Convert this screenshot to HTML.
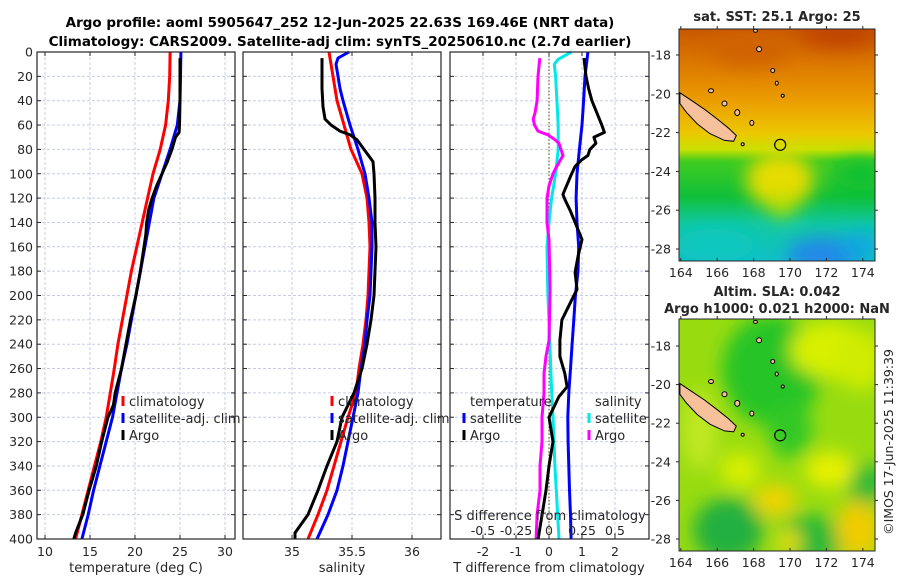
<!DOCTYPE html>
<html><head><meta charset="utf-8">
<style>
html,body{margin:0;padding:0;background:#fff;}
svg{display:block;font-family:"DejaVu Sans","Liberation Sans",sans-serif;}
</style></head>
<body>
<svg id="fig" width="900" height="580" viewBox="0 0 900 580" xmlns="http://www.w3.org/2000/svg">
<defs>
<filter id="blur" x="-50%" y="-50%" width="200%" height="200%"><feGaussianBlur stdDeviation="9"/></filter>
<linearGradient id="sstgrad" x1="0" y1="0" x2="0" y2="1">
<stop offset="0" stop-color="#c85800"/><stop offset="0.15" stop-color="#dc7800"/>
<stop offset="0.32" stop-color="#eca000"/><stop offset="0.45" stop-color="#ecc800"/>
<stop offset="0.52" stop-color="#c8e000"/><stop offset="0.57" stop-color="#40cc20"/>
<stop offset="0.72" stop-color="#10c038"/><stop offset="0.84" stop-color="#10c8a0"/>
<stop offset="1" stop-color="#10c0c8"/></linearGradient>
<clipPath id="clip1"><rect x="679" y="29" width="196" height="232"/></clipPath>
<clipPath id="clip2"><rect x="679" y="319" width="196" height="232"/></clipPath>
</defs>
<text x="340" y="27" text-anchor="middle" font-size="13.5" font-weight="bold">Argo profile: aoml 5905647_252 12-Jun-2025 22.63S 169.46E (NRT data)</text>
<text x="340" y="46" text-anchor="middle" font-size="13.5" font-weight="bold">Climatology: CARS2009. Satellite-adj clim: synTS_20250610.nc (2.7d earlier)</text>
<g id="g"></g>
</svg>
<script>
// ---- data ----
const depthTicks = [0,20,40,60,80,100,120,140,160,180,200,220,240,260,280,300,320,340,360,380,400];
const climDepth = [0,20,40,60,80,100,120,140,160,180,200,220,240,260,280,300,320,340,360,380,400];
const climTemp = [23.9,23.85,23.7,23.4,22.8,22.0,21.4,20.8,20.2,19.6,19.1,18.6,18.1,17.7,17.25,16.8,16.2,15.5,14.8,14.1,13.4];
const satDepthT = [0,20,40,60,80,100,120,140,160,180,200,220,240,260,280,300,320,340,360,380,400];
const satTemp = [25.1,25.05,25.0,24.7,23.9,23.0,22.1,21.6,21.1,20.6,20.1,19.6,19.1,18.5,18.0,17.5,16.8,16.1,15.4,14.8,14.1];
const argoDepthT = [5,20,40,60,66,70,80,90,100,110,120,130,140,150,160,180,200,220,240,260,280,290,300,320,340,360,380,395,400];
const argoTemp = [25.0,25.0,25.0,24.95,24.9,24.5,24.1,23.6,23.0,22.4,21.9,21.5,21.3,21.2,21.0,20.6,20.1,19.5,19.0,18.5,17.8,17.6,17.0,16.3,15.7,14.9,14.2,13.4,13.2];
const climSal = [35.308,35.342,35.375,35.433,35.492,35.583,35.625,35.642,35.65,35.642,35.633,35.617,35.592,35.558,35.533,35.467,35.408,35.35,35.292,35.217,35.133];
const satDepthS = [0,5,10,20,30,40,60,80,100,120,140,160,180,200,220,240,260,280,300,320,340,360,380,400];
const satSal = [35.475,35.383,35.367,35.383,35.4,35.425,35.483,35.55,35.608,35.642,35.667,35.667,35.658,35.65,35.625,35.608,35.575,35.55,35.508,35.467,35.425,35.375,35.3,35.208];
const argoDepthS = [5,30,45,55,60,65,68,72,80,90,100,120,140,160,180,200,220,240,260,280,290,300,320,340,360,380,395,400];
const argoSal = [35.25,35.25,35.258,35.275,35.325,35.4,35.483,35.542,35.6,35.675,35.683,35.692,35.692,35.7,35.692,35.683,35.658,35.625,35.583,35.517,35.467,35.417,35.375,35.292,35.217,35.133,35.025,35.025];
const satDTDepth = [0,20,40,60,80,100,120,140,160,180,200,220,240,260,280,300,320,340,360,380,400];
const satDT = [1.18,1.09,1.05,1.0,0.92,0.85,0.82,0.85,0.9,0.88,0.8,0.75,0.7,0.65,0.6,0.57,0.58,0.6,0.62,0.65,0.67];
const argoDTDepth = [5,20,30,40,50,60,66,70,75,80,85,89,94,101,117,121,130,140,154,168,181,195,203,220,237,250,264,275,283,300,320,340,360,380,400];
const argoDT = [1.06,1.12,1.2,1.3,1.45,1.6,1.68,1.36,1.42,1.24,1.18,0.97,0.79,0.67,0.42,0.48,0.64,0.79,1.0,0.88,0.79,0.85,0.7,0.39,0.33,0.33,0.48,0.55,0.3,0.0,0.12,0.0,-0.09,-0.21,-0.33];
const satDSDepth = [0,6,10,20,40,60,80,100,120,140,160,195,237,278,300,340,400];
const satDS = [0.17,0.07,0.04,0.05,0.06,0.07,0.07,0.05,0.02,0.0,-0.015,-0.01,0.005,0.02,0.03,0.045,0.076];
const argoDSDepth = [5,20,40,50,55,60,65,68,72,75,80,85,95,100,110,120,140,154,195,237,250,264,280,300,320,340,360,380,400];
const argoDS = [-0.07,-0.083,-0.09,-0.106,-0.12,-0.11,-0.083,-0.008,0.045,0.076,0.09,0.106,0.053,0.03,0.0,-0.015,-0.015,0.0,0.008,0.0,-0.023,-0.038,-0.038,-0.053,-0.053,-0.068,-0.068,-0.09,-0.098];
const tempTicks = [10,15,20,25,30];
const salTicks = [35,35.5,36];
const dtTicks = [-2,-1,0,1,2];
const dsTicks = [-0.5,-0.25,0,0.25,0.5];
const dsTickLabels = ['-0.5','-0.25','0','0.25','0.5'];
const lonTicks = [164,166,168,170,172,174];
const latTicks = [-18,-20,-22,-24,-26,-28];

const NS='http://www.w3.org/2000/svg';
const G=document.getElementById('g');
function mk(tag,attrs,parent){const e=document.createElementNS(NS,tag);for(const k in attrs)e.setAttribute(k,attrs[k]);(parent||G).appendChild(e);return e;}
function txt(x,y,s,size,anchor,parent){const e=mk('text',{x:x,y:y,'font-size':size,'text-anchor':anchor||'middle',fill:'#262626'},parent);e.textContent=s;return e;}

const yTop=52,yBot=539;
const yD=d=>yTop+(d/400)*(yBot-yTop);
function linScale(d0,d1,r0,r1){return v=>r0+(v-d0)/(d1-d0)*(r1-r0);}
const xT=linScale(10,30,45,225);
const xS=linScale(35,36,292,412);
const xDT=linScale(0,1,549,582);
const xDS=linScale(0,0.25,549,582);

const panels=[{x0:37,x1:235,name:'temperature-panel'},{x0:243,x1:441,name:'salinity-panel'},{x0:450,x1:649,name:'difference-panel'}];
panels.forEach((p,i)=>{
  const g=mk('g',{});
  
  
  depthTicks.forEach(d=>{
    if(d>0&&d<400){const l=mk('line',{x1:p.x0,x2:p.x1,y1:yD(d),y2:yD(d),stroke:'#c8cce8','stroke-width':1,'stroke-dasharray':'3,2'},g);
    
    }
    mk('line',{x1:p.x0,x2:p.x0+4,y1:yD(d),y2:yD(d),stroke:'#262626'},g);
    mk('line',{x1:p.x1,x2:p.x1-4,y1:yD(d),y2:yD(d),stroke:'#262626'},g);
  });
  p.g=g;
});
function vgrid(p,ticks,sc,labels,ly){
  ticks.forEach((t,k)=>{
    const x=sc(t);
    const l=mk('line',{x1:x,x2:x,y1:yTop,y2:yBot,stroke:'#c8cce8','stroke-width':1,'stroke-dasharray':'3,2'},p.g);
    
    
    mk('line',{x1:x,x2:x,y1:yBot,y2:yBot-4,stroke:'#262626'},p.g);
    mk('line',{x1:x,x2:x,y1:yTop,y2:yTop+4,stroke:'#262626'},p.g);
    if(ly){const tl=txt(x,ly,labels?labels[k]:String(t),12.5,'middle',p.g);
    
    }
  });
}
vgrid(panels[0],tempTicks,xT,null,556);
vgrid(panels[1],salTicks,xS,null,556);
vgrid(panels[2],dtTicks,xDT,null,556);
const zl=mk('line',{x1:549,x2:549,y1:yTop,y2:yBot,stroke:'#6b6b30','stroke-width':1.2,'stroke-dasharray':'1.5,2'});



depthTicks.forEach(d=>{
  const t=txt(33,yD(d)+4.5,String(d),12.5,'end');
  
  
});

function series(xs,ds,sc,color,name,w){
  const pts=xs.map((v,k)=>sc(v).toFixed(1)+','+yD(ds[k]).toFixed(1)).join(' ');
  const pl=mk('polyline',{points:pts,fill:'none',stroke:color,'stroke-width':w||3,'stroke-linejoin':'round'});
  
  
}
series(climTemp,climDepth,xT,'#ff0000','climatology-temperature-line');
series(satTemp,satDepthT,xT,'#0000ff','satellite-temperature-line');
series(argoTemp,argoDepthT,xT,'#000000','argo-temperature-line');
series(climSal,climDepth,xS,'#ff0000','climatology-salinity-line');
series(satSal,satDepthS,xS,'#0000ff','satellite-salinity-line');
series(argoSal,argoDepthS,xS,'#000000','argo-salinity-line');
series(satDS,satDSDepth,xDS,'#00e8e8','satellite-salinity-diff-line');
series(argoDS,argoDSDepth,xDS,'#ff00ff','argo-salinity-diff-line');
series(satDT,satDTDepth,xDT,'#0000ff','satellite-temperature-diff-line');
series(argoDT,argoDTDepth,xDT,'#000000','argo-temperature-diff-line');

panels.forEach(p=>{
  const r=mk('rect',{x:p.x0,y:yTop,width:p.x1-p.x0,height:yBot-yTop,fill:'none',stroke:'#262626','stroke-width':1.2});
  
  
});

let at=txt(136,572,'temperature (deg C)',13);


at=txt(342,572,'salinity',13);


at=txt(549,572,'T difference from climatology',13);


at=txt(550,520,'S difference from climatology',13);


dsTicks.forEach((t,k)=>{
  const e=txt(xDS(t),535,dsTickLabels[k],12.5);
  
  
});

function legend(x,y,color,label,name){
  const g=mk('g',{});
  
  
  mk('line',{x1:x,x2:x,y1:y-10,y2:y,stroke:color,'stroke-width':3},g);
  txt(x+6,y,label,13,'start',g);
}
legend(123,406,'#ff0000','climatology','legend-entry-climatology');
legend(123,423,'#0000ff','satellite-adj. clim','legend-entry-satellite-adj');
legend(123,440,'#000000','Argo','legend-entry-argo');
legend(332,406,'#ff0000','climatology','legend-entry-climatology');
legend(332,423,'#0000ff','satellite-adj. clim','legend-entry-satellite-adj');
legend(332,440,'#000000','Argo','legend-entry-argo');
let lh=txt(470,406,'temperature',13,'start');


lh=txt(595,406,'salinity',13,'start');


legend(464,423,'#0000ff','satellite','legend-entry-temp-satellite');
legend(464,440,'#000000','Argo','legend-entry-temp-argo');
legend(589,423,'#00e8e8','satellite','legend-entry-sal-satellite');
legend(589,440,'#ff00ff','Argo','legend-entry-sal-argo');

// ---- maps ----
function mapAxes(y0,h,latY,name){
  const x0=679,w=196;
  const lonX=lon=>679+(lon-163.9)*18.2;
  const g=mk('g',{});
  
  
  return {g,x0,y0,w,h,lonX,latY};
}
const m1=mapAxes(29,232,lat=>55+(-18-lat)*19.4,'sst-map');
const m2=mapAxes(319,232,lat=>346+(-18-lat)*19.3,'sla-map');
const f1=mk('g',{'clip-path':'url(#clip1)'},m1.g);


mk('rect',{x:679,y:29,width:196,height:232,fill:'url(#sstgrad)'},f1);
const b1=mk('g',{filter:'url(#blur)'},f1);
[[780,180,34,28,'#e6dc00'],[782,205,14,12,'#b8e000'],[840,34,40,14,'#c04400'],[750,50,40,16,'#d06400'],[825,255,38,18,'#2088e8'],[860,245,20,14,'#10a8e0'],[715,245,40,16,'#10c8c0'],[860,175,25,15,'#10c030']].forEach(e=>mk('ellipse',{cx:e[0],cy:e[1],rx:e[2],ry:e[3],fill:e[4]},b1));
const f2=mk('g',{'clip-path':'url(#clip2)'},m2.g);


mk('rect',{x:679,y:319,width:196,height:232,fill:'#98dc10'},f2);
const b2=mk('g',{filter:'url(#blur)'},f2);
[[772,370,50,55,'#28c428'],[790,430,22,28,'#30c828'],[830,350,40,28,'#d8f000'],[860,360,25,30,'#d0ec00'],[866,485,18,22,'#20b838'],[728,530,35,32,'#20b040'],[810,540,32,25,'#20b838'],[775,500,22,16,'#f0d400'],[858,530,22,30,'#f0cc00'],[790,542,12,12,'#f0e000'],[700,430,18,40,'#c0e820'],[740,470,20,18,'#d8f000'],[830,470,25,18,'#e8f000']].forEach(e=>mk('ellipse',{cx:e[0],cy:e[1],rx:e[2],ry:e[3],fill:e[4]},b2));

const ncal=[[163.95,-19.95],[164.6,-20.35],[165.3,-20.8],[166.0,-21.3],[166.6,-21.75],[167.05,-22.15],[166.9,-22.45],[166.4,-22.4],[165.6,-22.05],[164.9,-21.55],[164.3,-20.95],[163.95,-20.5]];
const isles=[[165.66,-19.84,2.5,2],[166.4,-20.5,2.5,2.5],[167.1,-20.97,2.5,3],[167.9,-21.5,2,2.5],[168.3,-17.7,2.5,2.5],[169.05,-18.8,2,2],[169.27,-19.45,1.5,2],[169.6,-20.1,1.5,1.5],[167.4,-22.6,1.5,1.5],[168.1,-16.75,2,1.5]];
[m1,m2].forEach(m=>{
  const pts=ncal.map(p=>m.lonX(p[0]).toFixed(1)+','+m.latY(p[1]).toFixed(1)).join(' ');
  const pg=mk('polygon',{points:pts,fill:'#f5c09a',stroke:'#000','stroke-width':1},m.g);
  
  
  isles.forEach(s=>{
    const e=mk('ellipse',{cx:m.lonX(s[0]),cy:m.latY(s[1]),rx:s[2],ry:s[3],fill:'#f5c09a',stroke:'#000','stroke-width':1},m.g);
    
    
  });
  const c=mk('circle',{cx:m.lonX(169.46),cy:m.latY(-22.63),r:5.5,fill:'none',stroke:'#000','stroke-width':1.2},m.g);
  
  
  const fr=mk('rect',{x:m.x0,y:m.y0,width:m.w,height:m.h,fill:'none',stroke:'#262626','stroke-width':1},m.g);
  
  
  lonTicks.forEach(l=>{
    const x=m.lonX(l);
    mk('line',{x1:x,x2:x,y1:m.y0+m.h,y2:m.y0+m.h-3,stroke:'#262626'},m.g);
    mk('line',{x1:x,x2:x,y1:m.y0,y2:m.y0-3,stroke:'#262626'},m.g);
    const t=txt(x,m.y0+m.h+16,String(l),12.5,'middle',m.g);
    
    
  });
  latTicks.forEach(l=>{
    const y=m.latY(l);
    mk('line',{x1:m.x0,x2:m.x0-3,y1:y,y2:y,stroke:'#262626'},m.g);
    mk('line',{x1:m.x0+m.w,x2:m.x0+m.w+3,y1:y,y2:y,stroke:'#262626'},m.g);
    const t=txt(m.x0-8,y+4.5,String(l),12.5,'end',m.g);
    
    
  });
});
let mt=txt(777,21,'sat. SST: 25.1 Argo: 25',13,'middle');
mt.setAttribute('font-weight','bold');


mt=txt(777,296,'Altim. SLA: 0.042',13,'middle');
mt.setAttribute('font-weight','bold');


mt=txt(777,313,'Argo h1000: 0.021 h2000: NaN',13,'middle');
mt.setAttribute('font-weight','bold');


const cp=txt(0,0,'\u00a9IMOS 17-Jun-2025 11:39:39',12.5,'middle');
cp.setAttribute('transform','translate(893,442) rotate(-90)');


</script>
</body></html>
